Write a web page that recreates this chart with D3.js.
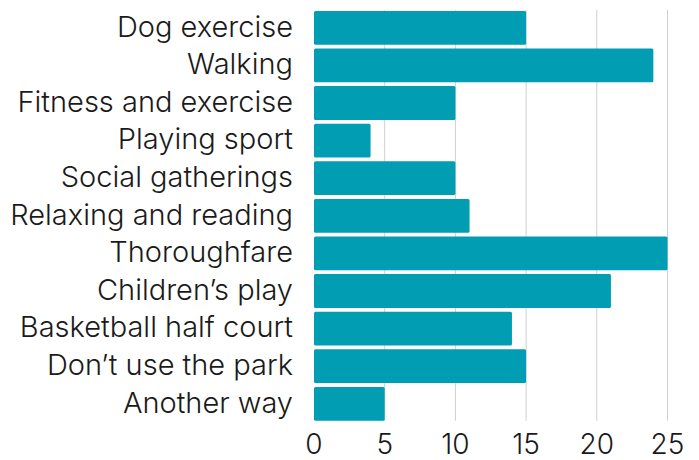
<!DOCTYPE html>
<html>
<head>
<meta charset="utf-8">
<script src="https://cdn.jsdelivr.net/npm/d3@7"></script>
<style>
  body { margin: 0; background: #fff; }
  text { font-family: Inter, "Noto Sans", sans-serif; fill: #1a1a1a; font-weight: 300; }
</style>
</head>
<body>
<svg id="chart" width="699" height="460"></svg>
<script>
"use strict";

var categories = ["Dog exercise", "Walking", "Fitness and exercise", "Playing sport",
  "Social gatherings", "Relaxing and reading", "Thoroughfare", "Children\u2019s play",
  "Basketball half court", "Don\u2019t use the park", "Another way"];
var counts = [15, 24, 10, 4, 10, 11, 25, 21, 14, 15, 5];
var tickValues = [0, 5, 10, 15, 20, 25];

var margin = { l: 314, r: 31.5, t: 9, b: 37.4 };
var width = 699, height = 460;

var svg = d3.select("#chart");

var x = d3.scaleLinear()
  .domain([0, 25])
  .range([margin.l, width - margin.r]);

var y = d3.scaleBand()
  .domain(categories)
  .range([margin.t, height - margin.b])
  .paddingInner(0.1)
  .paddingOuter(0.05);

var gridTop = y(categories[0]) - 1,
  gridBottom = y(categories[categories.length - 1]) + y.bandwidth();

// vertical gridlines
svg.append("g")
  .selectAll("line")
  .data(tickValues.filter(function(d) { return d > 0; }))
  .join("line")
  .attr("x1", function(d) { return x(d); })
  .attr("x2", function(d) { return x(d); })
  .attr("y1", gridTop)
  .attr("y2", gridBottom)
  .attr("stroke", "#cfcfcf")
  .attr("stroke-width", 1);

// bars
svg.append("g")
  .selectAll("rect")
  .data(counts)
  .join("rect")
  .attr("x", x(0))
  .attr("y", function(d, i) { return y(categories[i]); })
  .attr("width", function(d) { return x(d) - x(0); })
  .attr("height", y.bandwidth())
  .attr("rx", 1.5)
  .attr("fill", "#009db3");

// category labels
svg.append("g")
  .selectAll("text")
  .data(categories)
  .join("text")
  .attr("x", margin.l - 21)
  .attr("y", function(d) { return y(d) + y.bandwidth() / 2; })
  .attr("dy", "0.3em")
  .attr("text-anchor", "end")
  .style("font-size", "29px")
  .text(function(d) { return d; });

// x tick labels
svg.append("g")
  .selectAll("text")
  .data(tickValues)
  .join("text")
  .attr("x", function(d) { return x(d); })
  .attr("y", 454)
  .attr("text-anchor", "middle")
  .style("font-size", "28px")
  .text(function(d) { return d; });
</script>
</body>
</html>
